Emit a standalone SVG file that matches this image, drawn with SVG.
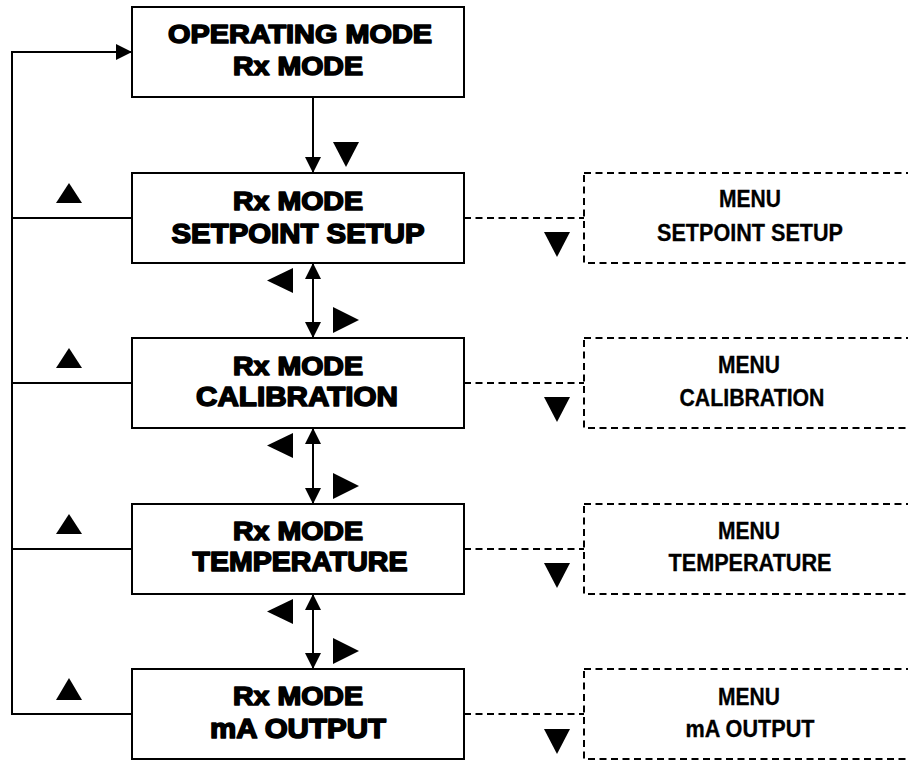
<svg xmlns="http://www.w3.org/2000/svg" width="908" height="760" viewBox="0 0 908 760">
<style>
.box{fill:#fff;stroke:#000;stroke-width:2}
.dbox{fill:#fff;stroke:#000;stroke-width:2;stroke-dasharray:7 4.5}
.ln{fill:none;stroke:#000;stroke-width:2}
.dln{fill:none;stroke:#000;stroke-width:2;stroke-dasharray:7 4.5}
.tri{fill:#000}
.t1{font-family:"Liberation Sans",Arial,sans-serif;font-weight:bold;font-size:25px;stroke:#000;stroke-width:1.5;stroke-linejoin:round;text-anchor:middle}
.t2{font-family:"Liberation Sans",Arial,sans-serif;font-weight:bold;font-size:28px;stroke:#000;stroke-width:1.6;stroke-linejoin:round;text-anchor:middle}
.m{font-family:"Liberation Sans",Arial,sans-serif;font-weight:bold;font-size:23px;stroke:#000;stroke-width:0.3;text-anchor:middle}
</style>
<defs>
<marker id="ah" markerUnits="userSpaceOnUse" markerWidth="16" markerHeight="16" viewBox="0 0 16 16" refX="16" refY="8" orient="auto-start-reverse">
<path d="M0,0 L16,8 L0,16 Z" fill="#000"/>
</marker>
</defs>
<rect width="908" height="760" fill="#fff"/>
<g id="connectors">
<polyline class="ln" points="132,714 12,714 12,52 132,52" marker-end="url(#ah)"/>
<line class="ln" x1="12" y1="218" x2="132" y2="218"/>
<line class="ln" x1="12" y1="383" x2="132" y2="383"/>
<line class="ln" x1="12" y1="549" x2="132" y2="549"/>
<line class="ln" x1="313" y1="97" x2="313" y2="173" marker-end="url(#ah)"/>
<line class="ln" x1="313" y1="263" x2="313" y2="338" marker-start="url(#ah)" marker-end="url(#ah)"/>
<line class="ln" x1="313" y1="428" x2="313" y2="504" marker-start="url(#ah)" marker-end="url(#ah)"/>
<line class="ln" x1="313" y1="594" x2="313" y2="669" marker-start="url(#ah)" marker-end="url(#ah)"/>
<line class="dln" x1="464" y1="218" x2="584" y2="218"/>
<line class="dln" x1="464" y1="383" x2="584" y2="383"/>
<line class="dln" x1="464" y1="549" x2="584" y2="549"/>
<line class="dln" x1="464" y1="714" x2="584" y2="714"/>
<polygon class="tri" points="333,142 359,142 346,167"/>
<polygon class="tri" points="56,203 82,203 69,183"/>
<polygon class="tri" points="56,368 82,368 69,348"/>
<polygon class="tri" points="56,534 82,534 69,514"/>
<polygon class="tri" points="56,700 82,700 69,678"/>
<polygon class="tri" points="293,268 293,293 267,280.5"/>
<polygon class="tri" points="333,307 333,333 359,320"/>
<polygon class="tri" points="293,433 293,458 267,445.5"/>
<polygon class="tri" points="333,473 333,499 359,486"/>
<polygon class="tri" points="293,599 293,624 267,611.5"/>
<polygon class="tri" points="333,638 333,664 359,651"/>
<polygon class="tri" points="544,232 570,232 557,257"/>
<polygon class="tri" points="544,397 570,397 557,422"/>
<polygon class="tri" points="544,563 570,563 557,588"/>
<polygon class="tri" points="544,729 570,729 557,754"/>
</g>
<g id="n0">
<rect class="box" x="132" y="7" width="332" height="90"/>
<text class="t1" x="300" y="43" textLength="264" lengthAdjust="spacingAndGlyphs">OPERATING MODE</text>
<text class="t1" x="298" y="75" textLength="130" lengthAdjust="spacingAndGlyphs">Rx MODE</text>
</g>
<g id="n1">
<rect class="box" x="132" y="173" width="332" height="90"/>
<text class="t1" x="298" y="210" textLength="130" lengthAdjust="spacingAndGlyphs">Rx MODE</text>
<text class="t2" x="298" y="243" textLength="253" lengthAdjust="spacingAndGlyphs">SETPOINT SETUP</text>
</g>
<g id="n2">
<rect class="box" x="132" y="338" width="332" height="90"/>
<text class="t1" x="298" y="375" textLength="130" lengthAdjust="spacingAndGlyphs">Rx MODE</text>
<text class="t2" x="297" y="406" textLength="202" lengthAdjust="spacingAndGlyphs">CALIBRATION</text>
</g>
<g id="n3">
<rect class="box" x="132" y="504" width="332" height="90"/>
<text class="t1" x="298" y="540" textLength="130" lengthAdjust="spacingAndGlyphs">Rx MODE</text>
<text class="t2" x="300" y="571" textLength="215" lengthAdjust="spacingAndGlyphs">TEMPERATURE</text>
</g>
<g id="n4">
<rect class="box" x="132" y="669" width="332" height="90"/>
<text class="t1" x="298" y="705" textLength="130" lengthAdjust="spacingAndGlyphs">Rx MODE</text>
<text class="t2" x="298" y="738" textLength="176" lengthAdjust="spacingAndGlyphs">mA OUTPUT</text>
</g>
<g id="m1">
<rect class="dbox" x="584" y="173" width="340" height="90"/>
<text class="m" x="750" y="207" textLength="62" lengthAdjust="spacingAndGlyphs">MENU</text>
<text class="m" x="750" y="241" textLength="186" lengthAdjust="spacingAndGlyphs">SETPOINT SETUP</text>
</g>
<g id="m2">
<rect class="dbox" x="584" y="338" width="340" height="90"/>
<text class="m" x="749" y="373" textLength="62" lengthAdjust="spacingAndGlyphs">MENU</text>
<text class="m" x="752" y="406" textLength="145" lengthAdjust="spacingAndGlyphs">CALIBRATION</text>
</g>
<g id="m3">
<rect class="dbox" x="584" y="504" width="340" height="90"/>
<text class="m" x="749" y="539" textLength="62" lengthAdjust="spacingAndGlyphs">MENU</text>
<text class="m" x="750" y="571" textLength="163" lengthAdjust="spacingAndGlyphs">TEMPERATURE</text>
</g>
<g id="m4">
<rect class="dbox" x="584" y="669" width="340" height="90"/>
<text class="m" x="749" y="705" textLength="62" lengthAdjust="spacingAndGlyphs">MENU</text>
<text class="m" x="750" y="737" textLength="129" lengthAdjust="spacingAndGlyphs">mA OUTPUT</text>
</g>
</svg>
